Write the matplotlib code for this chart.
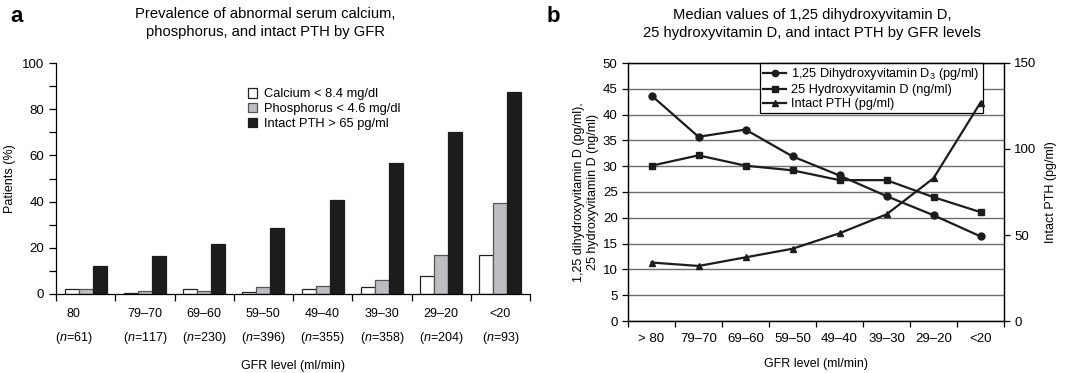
import matplotlib
matplotlib.use("Agg")
import matplotlib.pyplot as plt
import numpy as np
from matplotlib.patches import Patch
from matplotlib.lines import Line2D
from matplotlib.transforms import ScaledTranslation

plt.rcParams["font.family"] = ["Liberation Sans", "DejaVu Sans"]
plt.rcParams["mathtext.fontset"] = "custom"
plt.rcParams["mathtext.rm"] = "Liberation Sans"
plt.rcParams["mathtext.it"] = "Liberation Sans:italic"

# ── panel a data: prevalence (%) by GFR group ──────────────────────────────
gfr_a = ["80", "79\u201370", "69\u201360", "59\u201350", "49\u201340", "39\u201330", "29\u201320", "<20"]
n_a = [61, 117, 230, 396, 355, 358, 204, 93]
calcium = [2.3, 0.3, 2.3, 1.0, 2.2, 2.9, 8.0, 17.0]
phosphorus = [2.3, 1.4, 1.4, 3.1, 3.3, 6.2, 17.0, 39.2]
pth_pct = [12.0, 16.3, 21.5, 28.5, 40.8, 56.9, 70.1, 87.4]

# ── panel b data: medians by GFR level ─────────────────────────────────────
gfr_b = ["> 80", "79\u201370", "69\u201360", "59\u201350", "49\u201340", "39\u201330", "29\u201320", "<20"]
vit_d125 = [43.7, 35.7, 37.1, 31.9, 28.2, 24.2, 20.5, 16.4]
vit_d25 = [30.1, 32.1, 30.1, 29.2, 27.3, 27.3, 24.0, 21.1]
pth_med = [34, 32, 37, 42, 51, 62, 83, 127]

W, H = 1082, 373
fig = plt.figure(figsize=(W / 100, H / 100), dpi=100)
fig.patch.set_facecolor("white")


def box(l, t, r, b):
    return [l / W, 1 - b / H, (r - l) / W, (b - t) / H]


# ── panel a ────────────────────────────────────────────────────────────────
ax = fig.add_axes(box(56, 63, 530, 294))
x = np.arange(len(gfr_a))
bw = 0.237
ax.bar(x - bw, calcium, bw, color="white", edgecolor="#222222", lw=0.9)
ax.bar(x, phosphorus, bw, color="#bdbec2", edgecolor="#555555", lw=0.9)
ax.bar(x + bw, pth_pct, bw, color="#1c1c1c", edgecolor="#1c1c1c", lw=0.9)
ax.set_xlim(-0.5, 7.5)
ax.set_ylim(0, 100)
ax.set_yticks(range(0, 101, 20))
ax.set_yticks(range(10, 100, 20), minor=True)
ax.set_xticks(x)
ax.set_xticklabels([f"{g}\n($n$={n})" for g, n in zip(gfr_a, n_a)], linespacing=1.9)
ax.set_xticks(np.arange(-0.5, 7.6, 1), minor=True)
ax.tick_params(axis="x", which="major", length=0, pad=10, labelsize=9)
ax.tick_params(axis="x", which="minor", length=5, width=0.9)
ax.tick_params(axis="y", which="both", length=5, width=0.9, labelsize=9.5)
first = ax.get_xticklabels()[0]
first.set_transform(first.get_transform() + ScaledTranslation(-12 / 100, 0, fig.dpi_scale_trans))
for s in ["top", "right"]:
    ax.spines[s].set_visible(False)
for s in ["left", "bottom"]:
    ax.spines[s].set_linewidth(0.9)
ax.set_ylabel("Patients (%)", fontsize=9)
ax.set_xlabel("GFR level (ml/min)", fontsize=9, labelpad=10)
hand_a = [Patch(facecolor="white", edgecolor="#222222", lw=0.9),
          Patch(facecolor="#bdbec2", edgecolor="#555555", lw=0.9),
          Patch(facecolor="#1c1c1c", edgecolor="#1c1c1c", lw=0.9)]
ax.legend(hand_a, ["Calcium < 8.4 mg/dl", "Phosphorus < 4.6 mg/dl", "Intact PTH > 65 pg/ml"],
          loc="upper left", bbox_to_anchor=(0.385, 0.93), frameon=False, fontsize=9.3,
          handlelength=0.75, handleheight=0.75, handletextpad=0.5, labelspacing=0.2,
          borderpad=0.2)
fig.text(265 / W, 1 - 23 / H, "Prevalence of abnormal serum calcium,\nphosphorus, and intact PTH by GFR",
         ha="center", va="center", fontsize=10.6, linespacing=1.35)
fig.text(10 / W, 1 - 17 / H, "a", fontsize=16, fontweight="bold", ha="left", va="center")

# ── panel b ────────────────────────────────────────────────────────────────
bx = fig.add_axes(box(628, 63, 1004, 321))
xb = np.arange(len(gfr_b))
bx.set_xlim(-0.5, 7.5)
bx.set_ylim(0, 50)
bx.set_yticks(range(0, 51, 5))
bx.grid(axis="y", color="#6e6e6e", lw=1.0)
bx.set_axisbelow(True)
bx.plot(xb, vit_d125, color="#1c1c1c", lw=1.6, marker="o", ms=5, zorder=3)
bx.plot(xb, vit_d25, color="#1c1c1c", lw=1.6, marker="s", ms=5, zorder=3)
bx.set_xticks(xb)
bx.set_xticklabels(gfr_b)
bx.set_xticks(np.arange(-0.5, 7.6, 1), minor=True)
bx.tick_params(axis="x", which="major", length=0, pad=9, labelsize=9.5)
bx.tick_params(axis="x", which="minor", length=4, width=0.9)
bx.tick_params(axis="y", length=4, width=0.9, labelsize=9.5)
for s in bx.spines.values():
    s.set_linewidth(0.9)
bx.set_ylabel("1,25 dihydroxyvitamin D (pg/ml),\n25 hydroxyvitamin D (ng/ml)", fontsize=9, labelpad=3)
bx.set_xlabel("GFR level (ml/min)", fontsize=9, labelpad=9)

tx = bx.twinx()
tx.set_ylim(0, 150)
tx.set_yticks([0, 50, 100, 150])
tx.plot(xb, pth_med, color="#1c1c1c", lw=1.6, marker="^", ms=5, zorder=3)
tx.tick_params(axis="y", length=4, width=0.9, labelsize=9.5)
tx.set_ylabel("Intact PTH (pg/ml)", fontsize=9, labelpad=6)
for s in tx.spines.values():
    s.set_linewidth(0.9)

hand_b = [Line2D([], [], color="#1c1c1c", lw=1.6, marker=m, ms=4.5) for m in ["o", "s", "^"]]
leg = bx.legend(hand_b, ["1,25 Dihydroxyvitamin D$_3$ (pg/ml)", "25 Hydroxyvitamin D (ng/ml)",
                         "Intact PTH (pg/ml)"],
                loc="upper left", bbox_to_anchor=(0.351, 1.0), fontsize=9.2, fancybox=False,
                framealpha=1, edgecolor="black", handlelength=1.8, handletextpad=0.4,
                labelspacing=0.15, borderpad=0.25, borderaxespad=0)
leg.get_frame().set_linewidth(0.9)
fig.text(812 / W, 1 - 24 / H, "Median values of 1,25 dihydroxyvitamin D,\n25 hydroxyvitamin D, and intact PTH by GFR levels",
         ha="center", va="center", fontsize=10.6, linespacing=1.35)
fig.text(547 / W, 1 - 17 / H, "b", fontsize=16, fontweight="bold", ha="left", va="center")

fig.savefig("out.png", dpi=100, facecolor="white")
